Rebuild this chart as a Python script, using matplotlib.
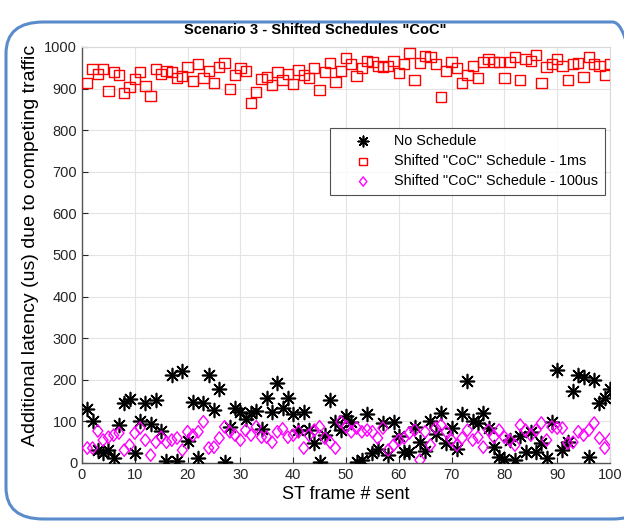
import matplotlib
matplotlib.use("Agg")
import matplotlib.pyplot as plt
from matplotlib.patches import FancyBboxPatch
from matplotlib.path import Path
import numpy as np

plt.rcParams['font.family'] = ['Liberation Sans', 'DejaVu Sans']

frames = list(range(1, 101))

no_schedule = [130, 100, 31, 24, 31, 12, 91, 144, 154, 24,
               101, 144, 94, 151, 77, 5, 211, 5, 221, 53,
               147, 12, 144, 211, 127, 178, 2, 87, 132, 123,
               106, 120, 125, 82, 156, 123, 192, 132, 156, 118,
               79, 123, 79, 48, 2, 67, 151, 99, 79, 113,
               99, 2, 7, 118, 24, 34, 96, 19, 99, 65,
               26, 26, 87, 50, 30, 101, 70, 120, 48, 84,
               34, 118, 197, 101, 96, 120, 84, 38, 14, 10,
               55, 7, 65, 26, 75, 26, 48, 12, 99, 224,
               31, 50, 173, 211, 207, 14, 200, 144, 156, 178]

coc_1ms = [913, 947, 935, 947, 894, 940, 933, 889, 904, 923,
           940, 906, 882, 947, 935, 942, 940, 925, 930, 952,
           918, 959, 925, 942, 913, 952, 962, 899, 933, 950,
           942, 865, 892, 923, 928, 909, 940, 921, 935, 911,
           945, 933, 925, 950, 897, 940, 962, 916, 942, 974,
           959, 930, 950, 966, 964, 954, 952, 954, 966, 938,
           959, 986, 921, 962, 978, 976, 959, 880, 942, 964,
           950, 913, 933, 954, 925, 964, 971, 964, 964, 925,
           964, 976, 921, 971, 966, 981, 913, 952, 959, 971,
           954, 921, 959, 962, 928, 976, 959, 954, 933, 959]

coc_100us = [36, 36, 77, 55, 62, 67, 72, 31, 43, 72,
             84, 55, 19, 50, 62, 50, 55, 60, 31, 75,
             67, 75, 99, 36, 38, 60, 87, 75, 67, 55,
             79, 67, 87, 62, 62, 50, 75, 82, 62, 67,
             75, 36, 67, 79, 87, 60, 50, 36, 99, 87,
             75, 84, 75, 79, 75, 60, 84, 31, 43, 55,
             60, 72, 79, 7, 75, 43, 84, 91, 75, 55,
             43, 60, 79, 55, 62, 38, 79, 62, 79, 62,
             55, 43, 91, 79, 67, 79, 96, 55, 87, 84,
             84, 48, 50, 75, 67, 79, 96, 60, 36, 57]

title = 'Scenario 3 - Shifted Schedules "CoC"'
xlabel = 'ST frame # sent'
ylabel = 'Additional latency (us) due to competing traffic'
labels = ['No Schedule', 'Shifted "CoC" Schedule - 1ms', 'Shifted "CoC" Schedule - 100us']

W, H = 624, 525
fig = plt.figure(figsize=(W / 100, H / 100), dpi=100)
fig.patch.set_facecolor('white')

# rounded blue frame
frame = FancyBboxPatch((6 / W, 6 / H), (W + 20) / W, (H - 28) / H,
                       boxstyle="round,pad=0,rounding_size=0.06",
                       transform=fig.transFigure, fill=False,
                       edgecolor='#5a8ccc', linewidth=2.2, clip_on=False)
fig.patches.append(frame)

ax = fig.add_axes([82 / W, (H - 463) / H, 528 / W, 416 / H])

diamond = Path([(0, 1), (0.8, 0), (0, -1), (-0.8, 0), (0, 1)],
               [Path.MOVETO, Path.LINETO, Path.LINETO, Path.LINETO, Path.CLOSEPOLY])

ax.scatter(frames, no_schedule, marker=(8, 2, 0), s=100, c='black',
           linewidths=1.2, label=labels[0], zorder=3)
ax.scatter(frames, coc_1ms, marker='s', s=55, facecolors='none',
           edgecolors='red', linewidths=1.0, label=labels[1], zorder=3)
ax.scatter(frames, coc_100us, marker=diamond, s=80, facecolors='none',
           edgecolors='#ff00ff', linewidths=1.0, label=labels[2], zorder=3)

ax.set_xlim(0, 100)
ax.set_ylim(0, 1000)
ax.set_xticks(np.arange(0, 101, 10))
ax.set_yticks(np.arange(0, 1001, 100))
ax.grid(True, color='#e3e3e3', linewidth=0.8, zorder=0)
ax.set_axisbelow(True)
ax.tick_params(direction='in', length=4, labelsize=10.5, colors='#262626',
               top=False, right=False)
for side in ['left', 'bottom']:
    ax.spines[side].set_color('#555555')
    ax.spines[side].set_linewidth(1.0)
for side in ['top', 'right']:
    ax.spines[side].set_color('#d9d9d9')
    ax.spines[side].set_linewidth(0.8)

fig.text(315 / W, 1 - 30 / H, title, fontsize=10.5, fontweight='bold',
         ha='center', va='center')
ax.set_xlabel(xlabel, fontsize=13, labelpad=3)
ax.set_ylabel(ylabel, fontsize=14)
ax.yaxis.set_label_coords(-0.082, 0.522)

leg = ax.legend(loc='upper right', bbox_to_anchor=(0.99, 0.806), fontsize=10.4,
                frameon=True, fancybox=False, edgecolor='#262626',
                borderpad=0.45, labelspacing=0.42, handletextpad=0.3,
                handlelength=3.7, borderaxespad=0, markerscale=0.75)
leg.get_frame().set_linewidth(0.8)

fig.savefig('out.png', dpi=100, facecolor='white')
